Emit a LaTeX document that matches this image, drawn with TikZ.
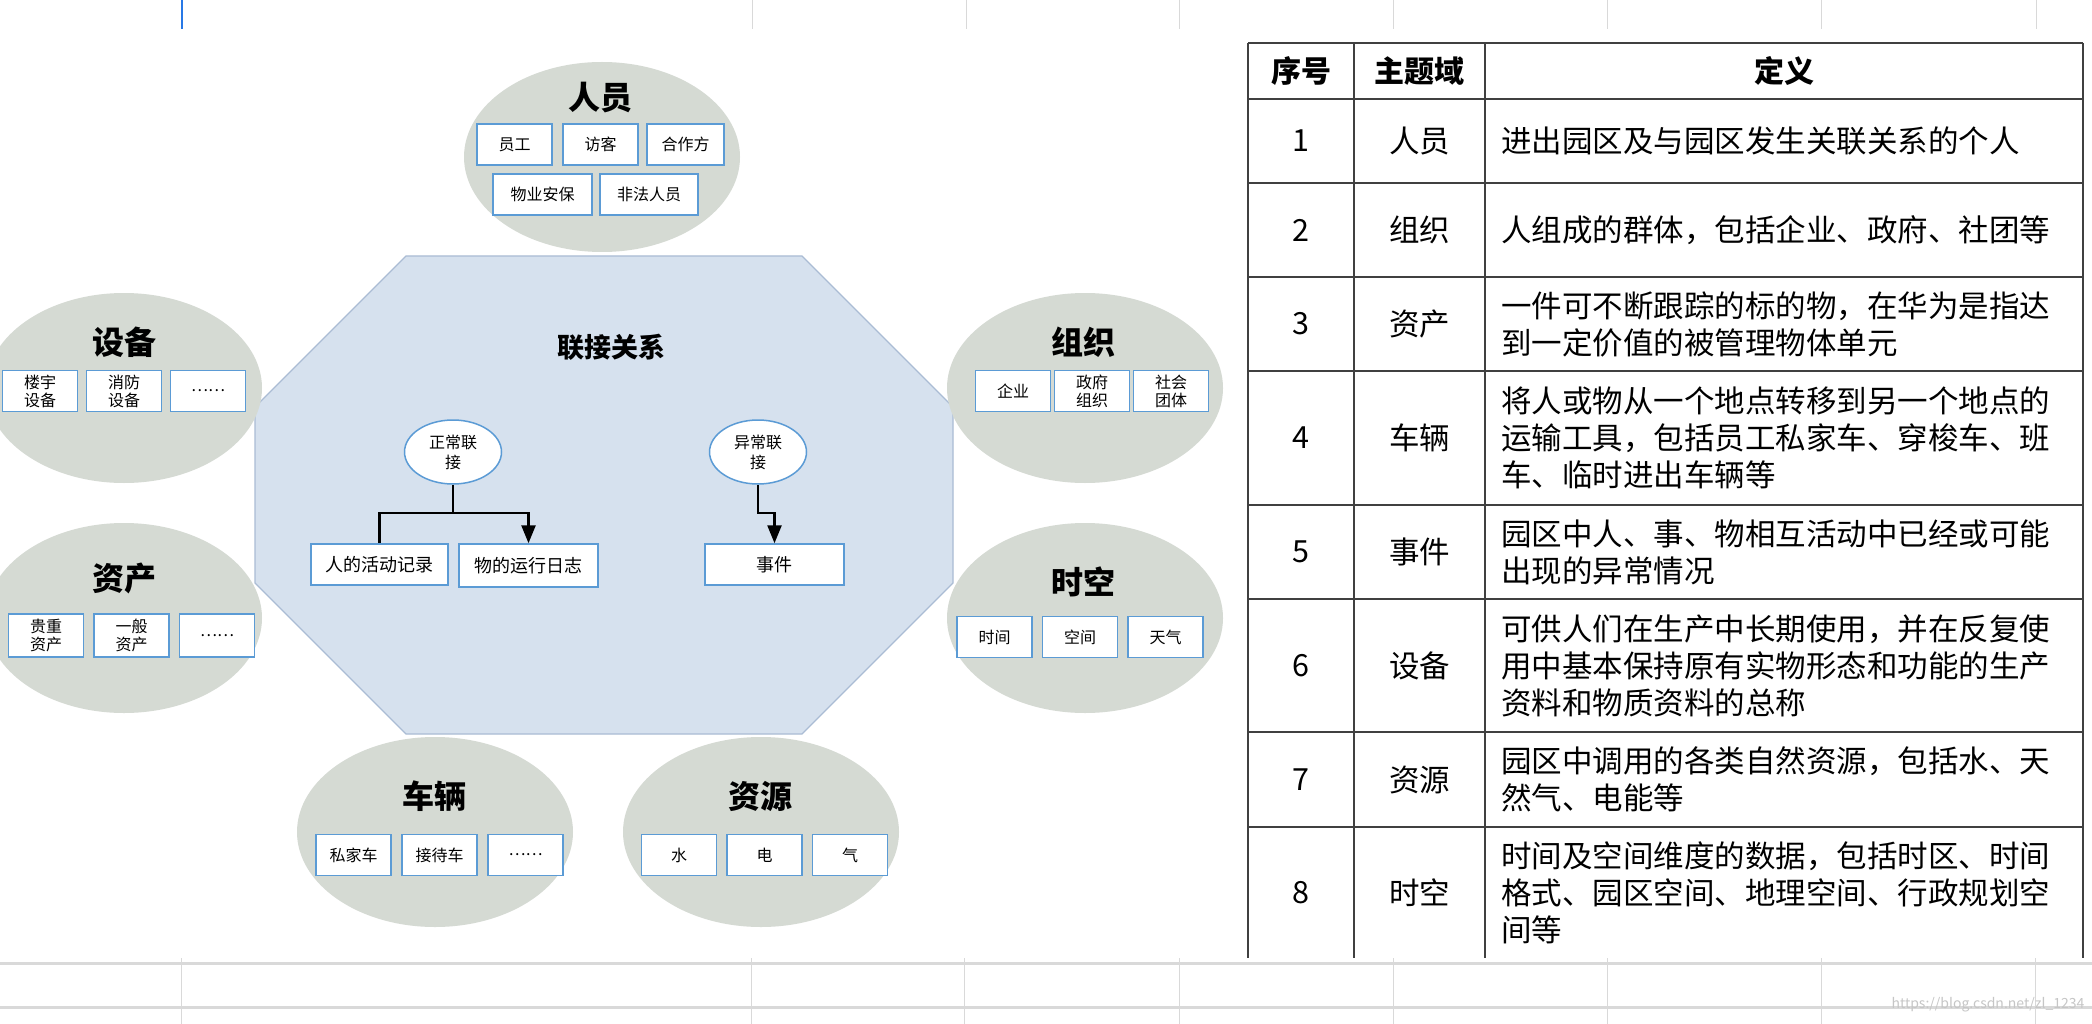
\documentclass[tikz,border=0pt]{standalone}
\usepackage{fontspec}
\setmainfont{Noto Sans CJK SC}
\usetikzlibrary{shapes.geometric,arrows.meta}

\definecolor{topicgray}{RGB}{213,218,211}
\definecolor{hubblue}{RGB}{214,225,238}
\definecolor{hubedge}{RGB}{170,188,212}
\definecolor{itemblue}{RGB}{91,155,213}
\definecolor{gridgray}{RGB}{217,217,217}
\definecolor{rulegray}{RGB}{64,64,64}
\definecolor{selblue}{RGB}{40,120,230}

\begin{document}
\begin{tikzpicture}[x=1pt,y=-1pt,
		topic/.style={ellipse,fill=topicgray,minimum width=276pt,minimum height=190pt,inner sep=0pt},
		ttl/.style={font=\bfseries\fontsize{32}{36}\selectfont},
		item/.style={draw=itemblue,line width=1.5pt,fill=white,minimum width=75pt,minimum height=41pt,
			inner sep=0pt,align=center,font=\fontsize{16}{18}\selectfont},
		link/.style={ellipse,draw=itemblue,line width=1.5pt,fill=white,minimum width=97pt,minimum height=64pt,
			inner sep=0pt,align=center,font=\fontsize{16}{20}\selectfont},
		conn/.style={line width=2.5pt,black},
		tip/.style={-{Triangle[width=14pt,length=18pt]}},
		grid/.style={gridgray,line width=1pt},
		rule/.style={rulegray,line width=2pt},
		cell/.style={inner sep=2pt,font=\fontsize{30.5}{37}\selectfont}]
\useasboundingbox (0,0) rectangle (2092,1024);
\fill[white] (0,0) rectangle (2092,1024);

% sheet grid
\draw[selblue,line width=2pt] (182,0) -- (182,29);
\foreach \x in {752,966,1179,1393,1607,1821,2036}
	\draw[grid] (\x,0) -- (\x,29);
\draw[gridgray,line width=3pt] (0,963) -- (2092,963);
\draw[gridgray,line width=3pt] (0,1007) -- (2092,1007);
\foreach \x in {181,751,964,1179,1393,1607,1821,2035}
	\draw[grid] (\x,958) -- (\x,1024);

% centre
\filldraw[fill=hubblue,draw=hubedge,line width=1.2pt] (406,256) -- (802,256) -- (953,407) -- (953,583)
	-- (802,734) -- (406,734) -- (255,583) -- (255,407) -- cycle;
\node[font=\bfseries\fontsize{27}{30}\selectfont] (hub) at (611,347) {联接关系};
\node[link] (norm) at (453,452) {正常联\\接};
\node[link] (abn) at (758,452) {异常联\\接};
\node[item,minimum width=137pt,font=\fontsize{18}{20}\selectfont] (act) at (379.5,564.5) {人的活动记录};
\node[item,minimum width=139pt,minimum height=43pt,font=\fontsize{18}{20}\selectfont] (log) at (528.5,565.5) {物的运行日志};
\node[item,minimum width=139pt,font=\fontsize{18}{20}\selectfont] (evt) at (774.5,564.5) {事件};
\draw[conn] (norm.south) -- ++(0,28) coordinate (normJ);
\draw[conn] (normJ) -| (act.north);
\draw[conn,tip] (normJ) -| (log.north);
\draw[conn,tip] (abn.south) -- ++(0,28) -| (evt.north);

% 人员
\node[topic] (staff) at (602,157) {};
\node[ttl] (staffT) at (600,98) {人员};
\node[item] (staff1) at (514.5,144.5) {员工};
\node[item] (staff2) at (600.5,144.5) {访客};
\node[item,minimum width=77pt] (staff3) at (685.5,144.5) {合作方};
\node[item,minimum width=99pt] (staff4) at (542.5,194.5) {物业安保};
\node[item,minimum width=98pt] (staff5) at (649,194.5) {非法人员};

% 设备
\node[topic] (equip) at (124,388) {};
\node[ttl] (equipT) at (124,342) {设备};
\foreach \t [count=\i] in {{楼宇\\设备},{消防\\设备},……}
	\node[item] (equip\i) at ({-44+84*\i},391) {\t};

% 资产
\node[topic] (asset) at (124,618) {};
\node[ttl] (assetT) at (124,578) {资产};
\foreach \t [count=\i] in {{贵重\\资产},{一般\\资产},……}
	\node[item,minimum height=43pt] (asset\i) at ({-39.5+85.5*\i},635.5) {\t};

% 车辆
\node[topic] (vehicle) at (435,832) {};
\node[ttl] (vehicleT) at (434,796) {车辆};
\foreach \t [count=\i] in {私家车,接待车,……}
	\node[item] (vehicle\i) at ({267.5+86*\i},855) {\t};

% 资源
\node[topic] (res) at (761,832) {};
\node[ttl] (resT) at (760,796) {资源};
\foreach \t [count=\i] in {水,电,气}
	\node[item] (res\i) at ({593.5+85.5*\i},855) {\t};

% 组织
\node[topic] (org) at (1085,388) {};
\node[ttl] (orgT) at (1083,342) {组织};
\foreach \t [count=\i] in {企业,{政府\\组织},{社会\\团体}}
	\node[item] (org\i) at ({934+79*\i},391) {\t};

% 时空
\node[topic] (geo) at (1085,618) {};
\node[ttl] (geoT) at (1083,582) {时空};
\foreach \t [count=\i] in {时间,空间,天气}
	\node[item] (geo\i) at ({909+85.5*\i},637) {\t};

% table
\foreach \y in {43,99,183,277,371,505,599,732,827}
	\draw[rule] (1248,\y) -- (2083,\y);
\foreach \x in {1248,1354,1485,2083}
	\draw[rule] (\x,43) -- (\x,958);
\node[cell,font=\bfseries\fontsize{30}{37}\selectfont] (hNo) at (1301,71) {序号};
\node[cell,font=\bfseries\fontsize{30}{37}\selectfont] (hDom) at (1419.5,71) {主题域};
\node[cell,font=\bfseries\fontsize{30}{37}\selectfont] (hDef) at (1784,71) {定义};
\foreach \n/\y/\dom/\txt in {
	1/141/人员/{进出园区及与园区发生关联关系的个人},
	2/230/组织/{人组成的群体，包括企业、政府、社团等},
	3/324/资产/{一件可不断跟踪的标的物，在华为是指达\\到一定价值的被管理物体单元},
	4/438/车辆/{将人或物从一个地点转移到另一个地点的\\运输工具，包括员工私家车、穿梭车、班\\车、临时进出车辆等},
	5/552/事件/{园区中人、事、物相互活动中已经或可能\\出现的异常情况},
	6/665.5/设备/{可供人们在生产中长期使用，并在反复使\\用中基本保持原有实物形态和功能的生产\\资料和物质资料的总称},
	7/779.5/资源/{园区中调用的各类自然资源，包括水、天\\然气、电能等},
	8/893/时空/{时间及空间维度的数据，包括时区、时间\\格式、园区空间、地理空间、行政规划空\\间等}}
{
	\node[cell] (no\n) at (1301,\y) {\n};
	\node[cell] (dom\n) at (1419.5,\y) {\dom};
	\node[cell,anchor=west,align=left] (def\n) at (1499,\y) {\txt};
}

\node[text=gray!45,anchor=east,font=\fontsize{14}{16}\selectfont] (mark) at (2088,1005) {https://blog.csdn.net/zl\_1234};
\end{tikzpicture}
\end{document}
